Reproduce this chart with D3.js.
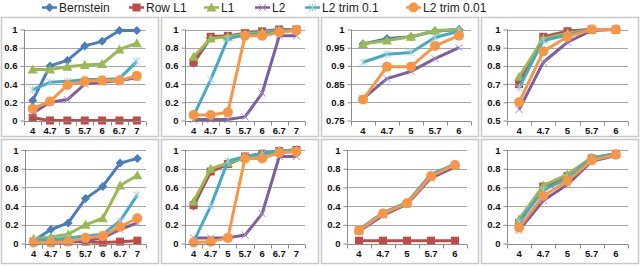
<!DOCTYPE html>
<html>
<head>
<meta charset="utf-8">
<script src="https://cdn.jsdelivr.net/npm/d3@7"></script>
<style>
  body { margin: 0; background: #fff; }
  svg { display: block; font-family: "Liberation Sans", Arial, sans-serif; }
</style>
</head>
<body>
<svg id="chart" width="640" height="266"></svg>
<script>
// series, in drawing order
const seriesNames = ["Bernstein", "Row L1", "L1", "L2", "L2 trim 0.1", "L2 trim 0.01"];

// category labels
const catsLong = ["4", "4.7", "5", "5.7", "6", "6.7", "7"];
const catsShort = ["4", "4.7", "5", "5.7", "6"];

// y tick values
const ticksUnit = [0, 0.2, 0.4, 0.6, 0.8, 1];
const ticksFine = [0.75, 0.8, 0.85, 0.9, 0.95, 1];
const ticksHalf = [0.5, 0.6, 0.7, 0.8, 0.9, 1];

// values per panel, one row per series (same order as seriesNames)
const topA = [
  [0.22, 0.60, 0.66, 0.82, 0.87, 0.99, 0.99],
  [0.03, 0.00, 0.00, 0.00, 0.00, 0.00, 0.00],
  [0.56, 0.56, 0.59, 0.61, 0.62, 0.78, 0.85],
  [0.08, 0.20, 0.23, 0.40, 0.42, 0.44, 0.47],
  [0.34, 0.42, 0.43, 0.45, 0.45, 0.46, 0.65],
  [0.13, 0.21, 0.39, 0.43, 0.44, 0.44, 0.49]
];
const topB = [
  [0.63, 0.91, 0.92, 0.95, 0.97, 0.99, 1.00],
  [0.64, 0.92, 0.93, 0.96, 0.98, 1.00, 1.00],
  [0.70, 0.90, 0.92, 0.95, 0.97, 0.99, 1.00],
  [0.01, 0.01, 0.01, 0.04, 0.30, 0.93, 0.93],
  [0.05, 0.45, 0.90, 0.94, 0.95, 0.99, 0.99],
  [0.06, 0.06, 0.09, 0.93, 0.93, 0.97, 0.99]
];
const topC = [
  [0.96, 0.975, 0.98, 0.995, 1.0],
  [null, null, null, null, null],
  [0.96, 0.970, 0.98, 0.997, 1.0],
  [0.81, 0.865, 0.885, 0.92, 0.95],
  [0.91, 0.932, 0.937, 0.978, 0.995],
  [0.808, 0.898, 0.898, 0.955, 0.983]
];
const topD = [
  [0.72, 0.95, 0.99, 1.0, 1.0],
  [0.70, 0.96, 0.99, 1.0, 1.0],
  [0.74, 0.95, 0.98, 1.0, 1.0],
  [0.56, 0.82, 0.93, 0.995, 1.0],
  [0.68, 0.94, 0.97, 1.0, 1.0],
  [0.60, 0.88, 0.96, 1.0, 1.0]
];
const botA = [
  [0.03, 0.15, 0.22, 0.48, 0.61, 0.86, 0.91],
  [0.02, 0.01, 0.02, 0.02, 0.01, 0.02, 0.03],
  [0.05, 0.07, 0.10, 0.20, 0.27, 0.62, 0.73],
  [0.01, 0.02, 0.02, 0.03, 0.06, 0.15, 0.22],
  [0.04, 0.04, 0.06, 0.08, 0.10, 0.24, 0.52],
  [0.01, 0.01, 0.02, 0.06, 0.08, 0.18, 0.27]
];
const botB = [
  [0.40, 0.77, 0.85, 0.93, 0.96, 0.99, 1.00],
  [0.41, 0.77, 0.85, 0.93, 0.96, 0.99, 1.00],
  [0.45, 0.80, 0.86, 0.92, 0.95, 0.99, 1.00],
  [0.06, 0.06, 0.06, 0.09, 0.32, 0.93, 0.93],
  [0.02, 0.40, 0.88, 0.93, 0.96, 0.99, 0.99],
  [0.01, 0.02, 0.06, 0.91, 0.91, 0.97, 0.98]
];
const botC = [
  [0.14, 0.32, 0.43, 0.72, 0.84],
  [0.03, 0.03, 0.03, 0.03, 0.03],
  [0.14, 0.32, 0.43, 0.72, 0.84],
  [0.13, 0.30, 0.42, 0.70, 0.82],
  [0.15, 0.33, 0.44, 0.74, 0.85],
  [0.14, 0.32, 0.43, 0.72, 0.84]
];
const botD = [
  [0.24, 0.60, 0.73, 0.91, 0.96],
  [0.22, 0.61, 0.72, 0.91, 0.96],
  [0.26, 0.62, 0.74, 0.92, 0.96],
  [0.14, 0.46, 0.63, 0.88, 0.94],
  [0.23, 0.57, 0.70, 0.91, 0.96],
  [0.17, 0.51, 0.67, 0.89, 0.95]
];

// styles
const colors = ["#4A7EBB", "#BE4B48", "#98B954", "#7D5FA0", "#46AAC5", "#F79646"];
const shapes = ["diamond", "square", "triangle", "x", "star", "circle"];

// layout: box + plot area for each panel
const panels = [
  { values: topA, cats: catsLong,  ticks: ticksUnit, box: [1, 17, 157, 119],   plot: [24, 145.5, 29.5, 120.5] },
  { values: topB, cats: catsLong,  ticks: ticksUnit, box: [161, 17, 157, 119], plot: [185, 305, 29.5, 120.5] },
  { values: topC, cats: catsShort, ticks: ticksFine, box: [321, 17, 157, 119], plot: [351, 471, 29.5, 120.5] },
  { values: topD, cats: catsShort, ticks: ticksHalf, box: [481, 17, 157, 119], plot: [507, 628, 29.5, 120.5] },
  { values: botA, cats: catsLong,  ticks: ticksUnit, box: [1, 139, 157, 124],  plot: [25, 146, 150, 243.5] },
  { values: botB, cats: catsLong,  ticks: ticksUnit, box: [161, 139, 157, 124], plot: [185, 305, 150, 243.5] },
  { values: botC, cats: catsShort, ticks: ticksUnit, box: [321, 139, 157, 124], plot: [347, 467, 150, 243.5] },
  { values: botD, cats: catsShort, ticks: ticksUnit, box: [481, 139, 157, 124], plot: [507, 628, 150, 243.5] }
];

const svg = d3.select("#chart");
const boxLayer = svg.append("g");
const plotLayer = svg.append("g");
const axisLayer = svg.append("g");

function drawMarker(g, shape, color, x, y) {
  if (shape === "diamond") {
    g.append("path").attr("d", `M${x},${y - 4.5}L${x + 4.5},${y}L${x},${y + 4.5}L${x - 4.5},${y}Z`)
      .attr("fill", color);
  } else if (shape === "square") {
    g.append("rect").attr("x", x - 4).attr("y", y - 4).attr("width", 8).attr("height", 8)
      .attr("fill", color);
  } else if (shape === "triangle") {
    g.append("path").attr("d", `M${x},${y - 5}L${x + 5},${y + 4}L${x - 5},${y + 4}Z`)
      .attr("fill", color);
  } else if (shape === "x") {
    g.append("path").attr("d", `M${x - 3.5},${y - 3.5}L${x + 3.5},${y + 3.5}M${x - 3.5},${y + 3.5}L${x + 3.5},${y - 3.5}`)
      .attr("stroke", "#A08FC0").attr("stroke-width", 1);
  } else if (shape === "star") {
    g.append("path").attr("d", `M${x - 3.5},${y - 3.5}L${x + 3.5},${y + 3.5}M${x - 3.5},${y + 3.5}L${x + 3.5},${y - 3.5}M${x},${y - 4}L${x},${y + 4}`)
      .attr("stroke", "#9CD3E3").attr("stroke-width", 1);
  } else {
    g.append("circle").attr("cx", x).attr("cy", y).attr("r", 5).attr("fill", color);
  }
}

const fmt = v => String(+v.toFixed(2));

panels.forEach(p => {
  const [bx, by, bw, bh] = p.box;
  const [x0, x1, yTop, yBot] = p.plot;

  boxLayer.append("rect")
    .attr("x", bx + 0.5).attr("y", by + 0.5)
    .attr("width", bw).attr("height", bh)
    .attr("fill", "#fff").attr("stroke", "#c8c8c8").attr("stroke-width", 1.5);

  const x = d3.scaleBand().domain(p.cats).range([x0, x1]);
  const y = d3.scaleLinear().domain([p.ticks[0], p.ticks[p.ticks.length - 1]]).range([yBot, yTop]);

  const g = plotLayer.append("g");

  // gridlines
  g.selectAll(".grid").data(p.ticks.slice(1)).enter().append("line")
    .attr("class", "grid")
    .attr("x1", x0).attr("x2", x1)
    .attr("y1", d => Math.round(y(d)) + 0.5).attr("y2", d => Math.round(y(d)) + 0.5)
    .attr("stroke", "#a6a6a6").attr("stroke-width", 1);

  // series
  p.values.forEach((vals, si) => {
    const pts = vals.map((v, i) => ({ c: p.cats[i], v })).filter(d => d.v !== null);
    if (!pts.length) return;
    const line = d3.line().x(d => x(d.c) + x.bandwidth() / 2).y(d => y(d.v));
    const sg = g.append("g");
    sg.append("path").datum(pts).attr("d", line)
      .attr("fill", "none").attr("stroke", colors[si]).attr("stroke-width", 3)
      .attr("stroke-linejoin", "round");
    pts.forEach(d => drawMarker(sg, shapes[si], colors[si], x(d.c) + x.bandwidth() / 2, y(d.v)));
  });

  // y axis
  const yAxis = axisLayer.append("g").attr("transform", `translate(${Math.round(x0) + 0.5},0)`)
    .call(d3.axisLeft(y).tickValues(p.ticks).tickFormat(fmt).tickSize(4).tickPadding(3));
  yAxis.select(".domain").attr("stroke", "#8a8a8a").attr("d", `M0,${yTop}V${yBot}`);
  yAxis.selectAll(".tick line").attr("stroke", "#8a8a8a");
  yAxis.selectAll(".tick text").attr("font-size", 9.5).attr("font-weight", "bold").attr("fill", "#111");

  // x axis
  const xAxis = axisLayer.append("g").attr("transform", `translate(0,${Math.round(yBot) + 0.5})`)
    .call(d3.axisBottom(x).tickSize(0).tickPadding(6));
  xAxis.select(".domain").attr("stroke", "#8a8a8a").attr("d", `M${x0},0H${x1}`);
  xAxis.selectAll(".tick text").attr("font-size", 9.5).attr("font-weight", "bold").attr("fill", "#111");
  const bounds = p.cats.map(c => x(c)).concat([x1]);
  xAxis.selectAll(".bnd").data(bounds).enter().append("line")
    .attr("class", "bnd")
    .attr("x1", d => Math.round(d) + 0.5).attr("x2", d => Math.round(d) + 0.5)
    .attr("y1", 0).attr("y2", 4).attr("stroke", "#8a8a8a");
});

// legend
const legendX = [42, 129, 204, 255, 305, 406];
const legend = svg.append("g");
seriesNames.forEach((name, i) => {
  const lx = legendX[i];
  legend.append("line").attr("x1", lx).attr("x2", lx + 15).attr("y1", 7.5).attr("y2", 7.5)
    .attr("stroke", colors[i]).attr("stroke-width", 2.5);
  drawMarker(legend, shapes[i], colors[i], lx + 7.5, 7.5);
  legend.append("text").attr("x", lx + 17).attr("y", 11.5)
    .attr("font-size", 12).attr("fill", "#222").text(name);
});
</script>
</body>
</html>
